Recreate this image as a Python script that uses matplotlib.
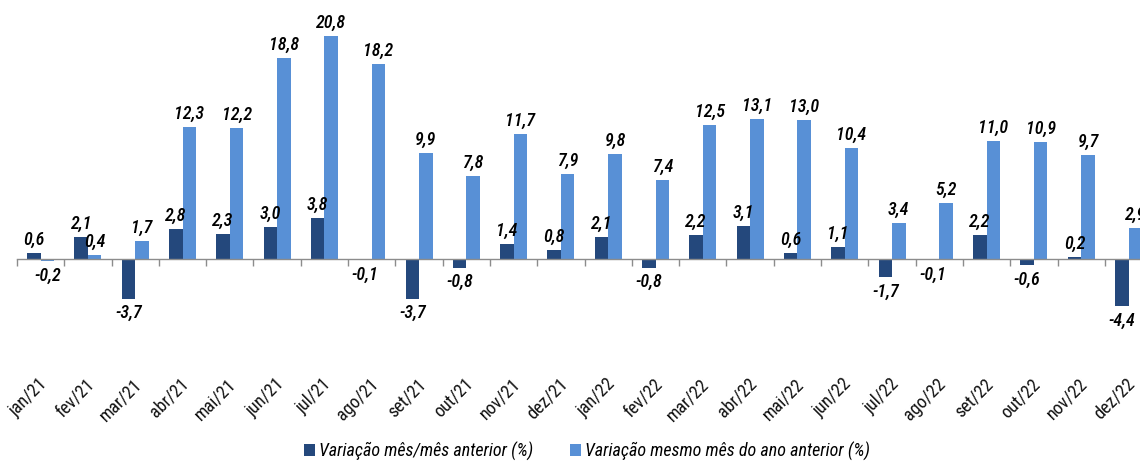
import matplotlib
matplotlib.use("Agg")
import matplotlib.pyplot as plt
import numpy as np
from matplotlib.ticker import FixedLocator

plt.rcParams['font.family'] = ['Liberation Sans Narrow', 'Arial Narrow', 'Roboto Condensed',
                               'IBM Plex Sans Condensed', 'PT Sans Narrow', 'DejaVu Sans']

categories = ["jan/21", "fev/21", "mar/21", "abr/21", "mai/21", "jun/21", "jul/21", "ago/21",
              "set/21", "out/21", "nov/21", "dez/21", "jan/22", "fev/22", "mar/22", "abr/22",
              "mai/22", "jun/22", "jul/22", "ago/22", "set/22", "out/22", "nov/22", "dez/22"]
var_mes = [0.6, 2.1, -3.7, 2.8, 2.3, 3.0, 3.8, -0.1, -3.7, -0.8, 1.4, 0.8,
           2.1, -0.8, 2.2, 3.1, 0.6, 1.1, -1.7, -0.1, 2.2, -0.6, 0.2, -4.4]
var_ano = [-0.2, 0.4, 1.7, 12.3, 12.2, 18.8, 20.8, 18.2, 9.9, 7.8, 11.7, 7.9,
           9.8, 7.4, 12.5, 13.1, 13.0, 10.4, 3.4, 5.2, 11.0, 10.9, 9.7, 2.9]
series_names = ["Variação mês/mês anterior (%)", "Variação mesmo mês do ano anterior (%)"]

c_dark = "#24487c"
c_light = "#5890d6"

W, H = 1140, 462
fig = plt.figure(figsize=(W / 100, H / 100), dpi=100)
step = 47.3
left_px = 17
top_px = 259 - 22 * 10.7
bot_px = 259 + 5 * 10.7
ax = fig.add_axes([left_px / W, 1 - bot_px / H, 24 * step / W, (bot_px - top_px) / H])

x = np.arange(len(categories))
bw = 0.285
b1 = ax.bar(x - bw / 2, var_mes, bw, color=c_dark, label=series_names[0], zorder=2)
b2 = ax.bar(x + bw / 2, var_ano, bw, color=c_light, label=series_names[1], zorder=2)

ax.set_xlim(-0.5, len(categories) - 0.5)
ax.set_ylim(-5, 22)

for sp in ['top', 'right', 'left']:
    ax.spines[sp].set_visible(False)
ax.spines['bottom'].set_position(('data', 0))
ax.spines['bottom'].set_color('#8c8c8c')
ax.spines['bottom'].set_linewidth(1.0)
ax.spines['bottom'].set_zorder(3)
ax.set_yticks([])

ax.set_xticks(x + 0.08)
ax.set_xticklabels(categories, rotation=45, ha='right', rotation_mode='anchor', va='center',
                   fontsize=13, color='#111111')
ax.tick_params(axis='x', which='major', length=0, pad=88)
ax.xaxis.set_minor_locator(FixedLocator(np.arange(-0.5, len(categories) + 0.5, 1)))
ax.tick_params(axis='x', which='minor', length=5, width=1, color='#8c8c8c', direction='out')

def fmt(v):
    return f"{v:.1f}".replace('.', ',')

for bars, vals in ((b1, var_mes), (b2, var_ano)):
    for rect, v in zip(bars, vals):
        cx = rect.get_x() + rect.get_width() / 2
        if v >= 0:
            ax.annotate(fmt(v), (cx, v), xytext=(0, 3), textcoords='offset points',
                        ha='center', va='bottom', fontsize=13, style='italic',
                        weight='medium', color='black', annotation_clip=False)
        else:
            ax.annotate(fmt(v), (cx, v), xytext=(0, -4), textcoords='offset points',
                        ha='center', va='top', fontsize=13, style='italic',
                        weight='medium', color='black', annotation_clip=False)

fig.legend(handles=[b1, b2], labels=series_names, loc='center',
           bbox_to_anchor=(587 / W, 1 - 451 / H), ncol=2, frameon=False,
           prop={'size': 13, 'style': 'italic'}, handlelength=0.6,
           handleheight=0.6, handletextpad=0.25, columnspacing=2.0, borderpad=0.1)

fig.savefig("out.png", dpi=100)
